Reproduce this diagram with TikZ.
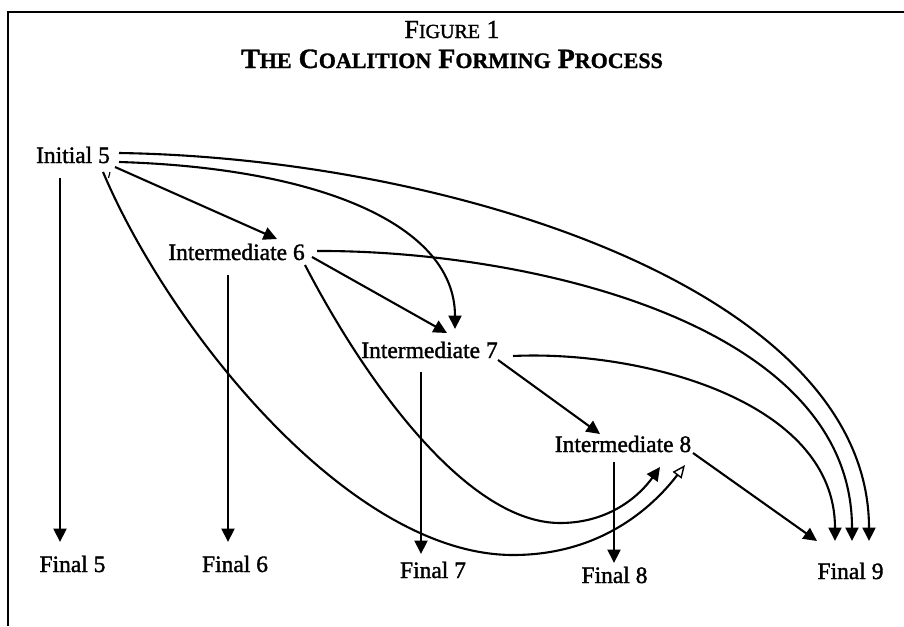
\documentclass[tikz,border=0pt]{standalone}
\usepackage{fontspec}
\setmainfont{Liberation Serif}
\newfontfamily\lblfont{Liberation Serif}[FakeBold=1.5]
\newfontfamily\ttlfont{Liberation Serif Bold}[FakeBold=1.2]
\usetikzlibrary{arrows.meta}
\tikzset{
  lbl/.style={inner sep=0pt, anchor=base, font=\lblfont\fontsize{23.5}{24}\selectfont},
  conn/.style={line width=2.1pt, -{Triangle[length=13.5pt,width=13pt]}},
  openconn/.style={line width=2.1pt, -{Triangle[open,length=13pt,width=11pt,line width=1.4pt]}},
  framel/.style={line width=2.8pt}
}
\newcommand{\smsc}[1]{{\fontsize{22}{22}\selectfont #1}}
\newcommand{\smfig}[1]{{\fontsize{20}{20}\selectfont #1}}
\begin{document}
\begin{tikzpicture}[x=1pt,y=-1pt]
\useasboundingbox (0,0) rectangle (904,626);
% frame
\draw[framel] (904,12) -- (8,12) -- (8,626);
% title
\node[inner sep=0pt, anchor=base, font=\lblfont\fontsize{26}{26}\selectfont] (fig) at (452,38)
  {F\smfig{IGURE} 1};
\node[inner sep=0pt, anchor=base, font=\ttlfont\fontsize{28}{28}\selectfont] (title) at (452,68)
  {T\smsc{HE} C\smsc{OALITION} F\smsc{ORMING} P\smsc{ROCESS}};
% nodes
\node[lbl] (i5) at (73,163) {Initial 5};
\node[lbl] (i6) at (236.5,260) {Intermediate 6};
\node[lbl] (i7) at (429.5,358) {Intermediate 7};
\node[lbl] (i8) at (623,452) {Intermediate 8};
\node[lbl] (f5) at (72.5,572) {Final 5};
\node[lbl] (f6) at (235,572) {Final 6};
\node[lbl] (f7) at (433,578) {Final 7};
\node[lbl] (f8) at (614.5,583) {Final 8};
\node[lbl] (f9) at (850.5,579) {Final 9};
% vertical arrows
\draw[conn] ([shift={(-13,15)}]i5.base) -- ([shift={(-12.5,-30)}]f5.base);
\draw[conn] ([shift={(-8.5,15)}]i6.base) -- ([shift={(-7,-30)}]f6.base);
\draw[conn] ([shift={(-8.5,14)}]i7.base) -- ([shift={(-12,-24)}]f7.base);
\draw[conn] ([shift={(-9,10)}]i8.base) -- ([shift={(-0.5,-20)}]f8.base);
% straight diagonals
\draw[conn] ([shift={(42,4)}]i5.base) -- ([shift={(40.5,-21)}]i6.base);
\draw[conn] ([shift={(75.5,-3)}]i6.base) -- ([shift={(17.5,-25)}]i7.base);
\draw[conn] ([shift={(68.5,2)}]i7.base) -- ([shift={(-23,-18)}]i8.base);
\draw[conn] ([shift={(70,1)}]i8.base) -- ([shift={(-33.5,-38)}]f9.base);
% curves
\draw[conn] ([shift={(46,-1)}]i5.base) .. controls (320,168) and (455,225) .. ([shift={(25.5,-29)}]i7.base);
\draw[conn] ([shift={(46,-10)}]i5.base) .. controls (450,158) and (869,290) .. ([shift={(18.5,-38)}]f9.base);
\draw[conn] ([shift={(80.5,-9)}]i6.base) .. controls (520,250) and (852,320) .. ([shift={(1.5,-38)}]f9.base);
\draw[conn] ([shift={(83.5,-2)}]i7.base) .. controls (640,350) and (835,400) .. ([shift={(-15.5,-38)}]f9.base);
\draw[conn] ([shift={(68.5,5)}]i6.base) .. controls (370,390) and (470,523) .. (560,523)
  .. controls (610,523) and (640,495) .. ([shift={(37,15)}]i8.base);
\draw[openconn] ([shift={(30,9)}]i5.base) .. controls (170,330) and (350,555) .. (513,555)
  .. controls (600,555) and (652,508) .. ([shift={(62,13)}]i8.base);
% small stray tick below Initial 5
\draw[line width=1.1pt] ([shift={(37,9)}]i5.base) -- ([shift={(35.5,15)}]i5.base);
\end{tikzpicture}
\end{document}
